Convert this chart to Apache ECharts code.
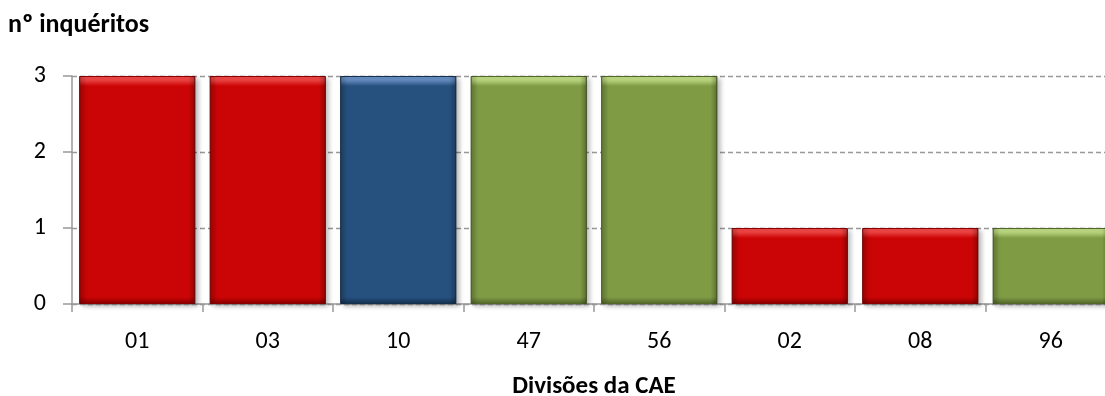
<!DOCTYPE html>
<html><head><meta charset="utf-8">
<script src="https://cdn.jsdelivr.net/npm/echarts@6/dist/echarts.min.js"></script>
<style>html,body{margin:0;padding:0;background:#fff}#c{width:1105px;height:396px}</style>
</head><body><div id="c"></div>
<script>
const categories = ['01','03','10','47','56','02','08','96'];
const values = [3,3,3,3,3,1,1,1];
const groups = ['red','red','blue','green','green','red','red','green'];
const yTicks = [0,1,2,3];

const palette = {
  red:   {base:'#CB0505', light:'#F34646', dark:'#8A0000'},
  blue:  {base:'#26517F', light:'#6890C6', dark:'#14304F'},
  green: {base:'#7F9C45', light:'#BFDC82', dark:'#52672A'}
};
const unitPx = 76;
const chart = echarts.init(document.getElementById('c'));
const data = values.map((v,i)=>{
  const p = palette[groups[i]];
  const h = v*unitPx;
  const t = 10/h, b = 1 - 7/h;
  return {
    value: v,
    itemStyle: {
      color: new echarts.graphic.LinearGradient(0,0,0,1,[
        {offset:0, color:p.light},
        {offset:t*0.4, color:p.light},
        {offset:t, color:p.base},
        {offset:b, color:p.base},
        {offset:1, color:p.dark}
      ]),
      borderColor: p.dark,
      borderWidth: 1,
      shadowColor: 'rgba(0,0,0,0.3)',
      shadowBlur: 5,
      shadowOffsetX: 3,
      shadowOffsetY: 2
    }
  };
});
const edgeGrad = new echarts.graphic.LinearGradient(0,0,1,0,[
  {offset:0, color:'rgba(0,0,0,0.22)'},
  {offset:0.06, color:'rgba(0,0,0,0)'},
  {offset:0.94, color:'rgba(0,0,0,0)'},
  {offset:1, color:'rgba(0,0,0,0.28)'}
]);
const font = 'Carlito, "Open Sans", "Liberation Sans", sans-serif';
chart.setOption({
  animation:false,
  grid:{left:72, right:-11, top:76, bottom:92, containLabel:false, outerBoundsMode:'none'},
  xAxis:{
    type:'category', data:categories,
    name:'Divisões da CAE', nameLocation:'middle', nameGap:70,
    nameTextStyle:{fontFamily:font, fontWeight:'bold', fontSize:25, color:'#000'},
    axisLine:{lineStyle:{color:'#999', width:1.5}},
    axisTick:{show:true, length:8, lineStyle:{color:'#999', width:1.5}},
    axisLabel:{fontFamily:font, fontSize:24, color:'#000', margin:26},
    splitLine:{show:false}
  },
  yAxis:{
    type:'value', min:0, max:3, interval:1,
    name:'nº inquéritos', nameLocation:'end', nameGap:38,
    nameTextStyle:{fontFamily:font, fontWeight:'bold', fontSize:26, color:'#000', align:'left', padding:[0,0,0,-64]},
    axisLine:{show:true, lineStyle:{color:'#999', width:1.5}},
    axisTick:{show:true, length:9, lineStyle:{color:'#999', width:1.5}},
    axisLabel:{fontFamily:font, fontSize:24, color:'#000', margin:26},
    splitLine:{show:true, lineStyle:{color:'#999', type:[5,3], width:1.3}}
  },
  series:[{
    type:'bar', data:data, barCategoryGap:'11%'
  },{
    type:'bar', data:values, barCategoryGap:'11%', barGap:'-100%', silent:true,
    itemStyle:{color:edgeGrad}
  }]
});
</script></body></html>
